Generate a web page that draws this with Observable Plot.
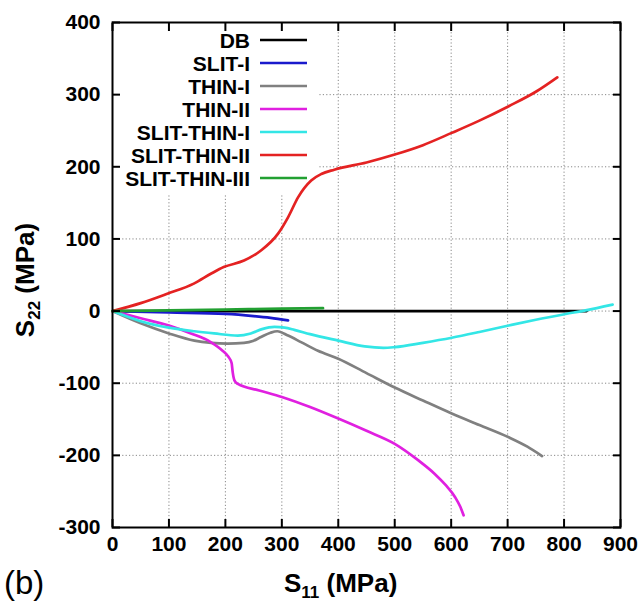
<!DOCTYPE html>
<html>
<head>
<meta charset="utf-8">
<script src="https://cdn.jsdelivr.net/npm/d3@7"></script>
<script src="https://cdn.jsdelivr.net/npm/@observablehq/plot@0.6"></script>
<style>
  html, body { margin: 0; padding: 0; background: #fff; }
  #chart svg { display: block; }
</style>
</head>
<body>
<div id="chart"></div>
<script>
// ---- data ----
const series = ["DB", "SLIT-I", "THIN-I", "THIN-II", "SLIT-THIN-I", "SLIT-THIN-II", "SLIT-THIN-III"];
const colors = ["#000000", "#1a1acc", "#808080", "#e020e0", "#33e6e6", "#e42222", "#22a032"];
const xTicks = [0, 100, 200, 300, 400, 500, 600, 700, 800, 900];
const yTicks = [-300, -200, -100, 0, 100, 200, 300, 400];

const DB = [[0, 0], [840, 0]];
const SLIT_I = [[0, 0], [100, -2], [200, -4], [250, -7], [280, -9.5], [311, -13]];
const THIN_I = [[0, 0], [50, -17], [100, -31], [145, -41], [175, -44], [204, -45], [233, -44], [250, -41],
  [263, -36], [280, -30], [292, -28], [311, -34], [334, -43], [364, -55], [400, -66], [450, -86],
  [500, -106], [550, -124], [601, -142], [650, -158], [702, -175], [735, -188], [761, -201]];
const THIN_II = [[0, 0], [50, -10], [100, -20], [139, -31], [174, -43], [195, -55], [205, -63], [211, -72],
  [213, -85], [216, -96], [222, -101], [260, -110], [300, -119], [350, -133], [400, -149], [450, -166],
  [500, -184], [542, -207], [570, -225], [590, -241], [607, -258], [616, -271], [622, -283]];
const SLIT_THIN_I = [[0, 0], [50, -14], [100, -23], [145, -28], [180, -31], [222, -34], [245, -31], [265, -25],
  [287, -22], [305, -23], [322, -26], [350, -32], [400, -41], [447, -49], [480, -51], [500, -50],
  [550, -44], [601, -37], [650, -29], [702, -20], [750, -12], [803, -4], [838, 1], [886, 9]];
const SLIT_THIN_II = [[0, 0], [50, 11], [97, 24], [144, 38], [175, 52], [197, 61], [233, 70], [263, 84],
  [293, 107], [311, 130], [329, 158], [352, 181], [370, 190], [393, 196], [450, 206], [500, 217],
  [550, 230], [601, 247], [650, 264], [702, 284], [750, 304], [788, 324]];
const SLIT_THIN_III = [[0, 0], [100, 1], [200, 2], [300, 3.5], [373, 4]];

const seriesData = [DB, SLIT_I, THIN_I, THIN_II, SLIT_THIN_I, SLIT_THIN_II, SLIT_THIN_III];
const rows = series.flatMap((s, i) => seriesData[i].map(([x, y]) => ({series: s, x, y})));

// legend box extent (in data units) that hides the grid
const legendBoxX = 365, legendBoxY = 163;

const FONT = "Liberation Sans";
const gridStyle = {stroke: "#888", strokeOpacity: 1, strokeWidth: 1, strokeDasharray: "1.2,2.2"};
const fmt = d => String(d);

const plot = Plot.plot({
  width: 641,
  height: 602,
  marginLeft: 112,
  marginRight: 21,
  marginTop: 22,
  marginBottom: 75,
  style: {fontFamily: FONT, fontWeight: "bold", fontSize: "21px", background: "#fff", color: "#000"},
  x: {domain: [0, 900]},
  y: {domain: [-300, 400]},
  color: {domain: series, range: colors},
  marks: [
    Plot.gridX(xTicks, gridStyle),
    Plot.gridY(yTicks, gridStyle),
    Plot.line(rows, {x: "x", y: "y", z: "series", stroke: "series", strokeWidth: 2.7, curve: "monotone-x"}),
    Plot.frame({stroke: "#000", strokeWidth: 2}),
    Plot.axisX(xTicks, {anchor: "bottom", tickSize: 8, dy: -8, tickFormat: () => "", label: null, strokeWidth: 2}),
    Plot.axisX(xTicks, {anchor: "top", tickSize: 8, dy: 8, tickFormat: () => "", label: null, strokeWidth: 2}),
    Plot.axisX(xTicks, {anchor: "bottom", tickSize: 0, tickPadding: 9, label: null, fontSize: 21, tickFormat: fmt}),
    Plot.axisY(yTicks, {anchor: "left", tickSize: 8, dx: 8, tickFormat: () => "", label: null, strokeWidth: 2}),
    Plot.axisY(yTicks, {anchor: "right", tickSize: 8, dx: -8, tickFormat: () => "", label: null, strokeWidth: 2}),
    Plot.axisY(yTicks, {anchor: "left", tickSize: 0, tickPadding: 12, label: null, fontSize: 21, tickFormat: fmt})
  ]
});

document.getElementById("chart").appendChild(plot);

const svg = d3.select(plot);
const sx = plot.scale("x"), sy = plot.scale("y");

// white legend background covering the grid (under the data lines)
const x0 = sx.apply(0), x1 = sx.apply(legendBoxX), y0 = sy.apply(400), y1 = sy.apply(legendBoxY);
const lineGroup = plot.querySelector('g[aria-label="line"]');
const bg = document.createElementNS("http://www.w3.org/2000/svg", "rect");
bg.setAttribute("x", x0 + 1); bg.setAttribute("y", y0 + 1);
bg.setAttribute("width", x1 - x0); bg.setAttribute("height", y1 - y0);
bg.setAttribute("fill", "#fff");
lineGroup.parentNode.insertBefore(bg, lineGroup);

// legend
const lg = svg.append("g").attr("font-family", FONT).attr("font-weight", "bold").attr("font-size", 21);
series.forEach((s, i) => {
  const yy = 40 + i * 23;
  lg.append("text").attr("x", 250).attr("y", yy).attr("dy", "0.36em").attr("text-anchor", "end").attr("fill", "#000").text(s);
  lg.append("line").attr("x1", 260).attr("x2", 307).attr("y1", yy).attr("y2", yy)
    .attr("stroke", colors[i]).attr("stroke-width", 2.7);
});

// axis labels with subscripts
const xl = svg.append("text").attr("x", 284).attr("y", 592).attr("text-anchor", "start")
  .attr("font-family", FONT).attr("font-weight", "bold").attr("font-size", 26).attr("fill", "#000");
xl.append("tspan").text("S");
xl.append("tspan").attr("font-size", 17).attr("dy", 6).text("11");
xl.append("tspan").attr("dy", -6).text(" (MPa)");

const yl = svg.append("text").attr("transform", "translate(34,280) rotate(-90)").attr("text-anchor", "middle")
  .attr("font-family", FONT).attr("font-weight", "bold").attr("font-size", 26).attr("fill", "#000");
yl.append("tspan").text("S");
yl.append("tspan").attr("font-size", 17).attr("dy", 6).text("22");
yl.append("tspan").attr("dy", -6).text(" (MPa)");

svg.append("text").attr("x", 4).attr("y", 594).attr("text-anchor", "start").attr("font-family", FONT)
  .attr("font-weight", "normal").attr("font-size", 33).attr("fill", "#000").text("(b)");
</script>
</body>
</html>
